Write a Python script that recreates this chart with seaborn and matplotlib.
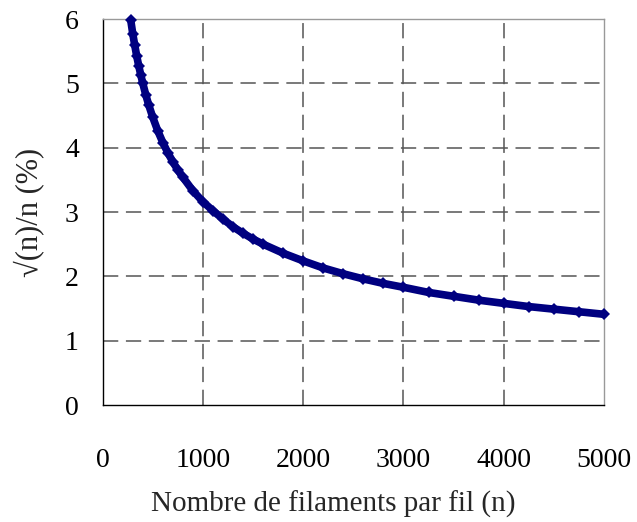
import numpy as np
import pandas as pd
import matplotlib
matplotlib.use("Agg")
import matplotlib.pyplot as plt
import seaborn as sns

# values: n and sqrt(n)/n in percent
n_filaments = [280, 300, 320, 340, 360, 380, 400, 430, 460, 500, 550, 600,
               650, 700, 750, 800, 900, 1000, 1100, 1200, 1300, 1400, 1500,
               1600, 1800, 2000, 2200, 2400, 2600, 2800, 3000, 3250, 3500,
               3750, 4000, 4250, 4500, 4750, 5000]
ratio_pct = [5.98, 5.77, 5.59, 5.42, 5.27, 5.13, 5.00, 4.82, 4.66, 4.47, 4.26,
             4.08, 3.92, 3.78, 3.65, 3.54, 3.33, 3.16, 3.02, 2.89, 2.77, 2.67,
             2.58, 2.50, 2.36, 2.24, 2.13, 2.04, 1.96, 1.89, 1.83, 1.75, 1.69,
             1.63, 1.58, 1.53, 1.49, 1.45, 1.41]
x_ticks = [0, 1000, 2000, 3000, 4000, 5000]
y_ticks = [0, 1, 2, 3, 4, 5, 6]

df = pd.DataFrame({"n": n_filaments, "r": ratio_pct})

sns.set_style("white")
plt.rcParams["font.family"] = ["Liberation Serif", "DejaVu Serif"]

fig = plt.figure(figsize=(6.37, 5.22), dpi=100)
ax = fig.add_axes([0.1612, 0.2241, 0.7870, 0.7395])

sns.lineplot(data=df, x="n", y="r", ax=ax, color="#000080", lw=5.5,
             marker="D", markersize=6.5, markeredgewidth=0, clip_on=False,
             zorder=5)

ax.set_xlim(0, 5000)
ax.set_ylim(0, 6)
ax.set_xticks(x_ticks)
ax.set_yticks(y_ticks)
ax.tick_params(axis="both", direction="out", length=7.2, width=1,
               color="black", labelsize=20, labelcolor="black")
ax.tick_params(axis="x", pad=24)
ax.tick_params(axis="y", pad=10)

for v in [1000, 2000, 3000, 4000]:
    ax.axvline(v, color="#555555", lw=1.1, ls=(0, (10, 5)), zorder=1)
for v in [1, 2, 3, 4, 5]:
    ax.axhline(v, color="#555555", lw=1.1, ls=(0, (10, 5)), zorder=1)

for s in ["left", "bottom"]:
    ax.spines[s].set_color("black")
    ax.spines[s].set_linewidth(1)
for s in ["top", "right"]:
    ax.spines[s].set_color("#999999")
    ax.spines[s].set_linewidth(1)

ax.set_xlabel("Nombre de filaments par fil (n)", fontsize=21)
ax.set_ylabel("√(n)/n (%)", fontsize=22)
ax.xaxis.set_label_coords(0.46, -0.222)
ax.yaxis.set_label_coords(-0.116, 0.5)

fig.savefig("out.png", dpi=100)
